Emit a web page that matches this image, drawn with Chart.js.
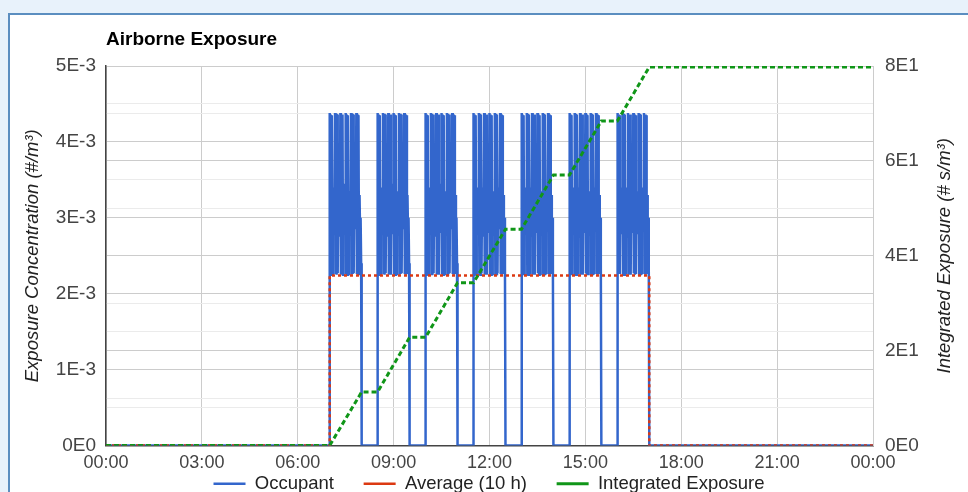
<!DOCTYPE html>
<html>
<head>
<meta charset="utf-8">
<script src="https://cdn.jsdelivr.net/npm/chart.js@4"></script>
<style>
  html, body { margin: 0; padding: 0; width: 968px; height: 492px; overflow: hidden; background: #e8f2fb; }
  #panel { position: absolute; left: 8px; top: 13px; width: 980px; height: 500px; background: #fff;
           border-left: 2px solid #5b8ec0; border-top: 2px solid #5b8ec0; }
  #wrap { position: absolute; left: 0; top: 0; width: 958px; height: 488px; }
</style>
</head>
<body>
<div id="panel"><div id="wrap"><canvas id="exposureChart"></canvas></div></div>
<script>
// Occupied periods (hours of day), each 1 h long
const blockStarts = [7, 8.5, 10, 11.5, 13, 14.5, 16];
const blockLength = 1;
// Occupant concentration inside one occupied hour, one value per minute (x 1E-3 #/m3)
const occupantBlock = [
  4.38, 2.25, 4.36, 2.27, 4.35, 2.26, 3.30, 2.80, 3.40, 2.90,
  4.38, 2.26, 4.37, 2.25, 4.36, 2.27, 3.35, 2.75, 3.40, 2.90,
  4.38, 2.25, 4.35, 2.28, 4.36, 2.25, 3.30, 2.80, 3.45, 2.85,
  4.38, 2.27, 4.36, 2.25, 4.35, 2.26, 3.30, 2.80, 3.35, 2.90,
  4.38, 2.25, 4.37, 2.26, 4.36, 2.27, 3.25, 2.85, 3.40, 2.90,
  4.38, 2.26, 4.36, 2.25, 4.35, 2.26, 3.30, 2.80, 3.00, 2.40
];
// Average over the 10 h occupancy
const avgTimes  = [0, 7, 7, 17, 17, 24];
const avgValues = [0, 0, 2.24e-3, 2.24e-3, 0, 0];
// Integrated exposure (# s/m3)
const intTimes  = [0, 7, 8, 8.5, 9.5, 10, 11, 11.5, 12.5, 13, 14, 14.5, 15.5, 16, 17, 24];
const intValues = [0, 0, 11.3, 11.3, 22.8, 22.8, 34.3, 34.3, 45.6, 45.6, 57.0, 57.0, 68.4, 68.4, 79.8, 79.8];

const xTickLabels = ["00:00", "03:00", "06:00", "09:00", "12:00", "15:00", "18:00", "21:00", "00:00"];
const leftTickLabels = ["0E0", "1E-3", "2E-3", "3E-3", "4E-3", "5E-3"];
const rightTickLabels = ["0E0", "2E1", "4E1", "6E1", "8E1"];

const FONT = "Arial, 'Liberation Sans', sans-serif";

// build occupant points
const occupantData = [{ x: 0, y: 0 }];
blockStarts.forEach(t0 => {
  occupantData.push({ x: t0, y: 0 });
  occupantBlock.forEach((v, i) => occupantData.push({ x: t0 + i * blockLength / occupantBlock.length, y: v * 1e-3 }));
  occupantData.push({ x: t0 + blockLength, y: 0 });
});
occupantData.push({ x: 24, y: 0 });

const avgData = avgTimes.map((t, i) => ({ x: t, y: avgValues[i] }));
const intData = intTimes.map((t, i) => ({ x: t, y: intValues[i] }));

const titlesPlugin = {
  id: "titles",
  afterDraw(chart) {
    const { ctx, chartArea } = chart;
    ctx.save();
    ctx.fillStyle = "#000";
    ctx.font = "bold 19px " + FONT;
    ctx.textBaseline = "middle";
    ctx.textAlign = "left";
    ctx.fillText("Airborne Exposure", chartArea.left, 25);
    // right axis title, reads bottom to top
    ctx.fillStyle = "#222";
    ctx.font = "italic 18.5px " + FONT;
    ctx.translate(935, (chartArea.top + chartArea.bottom) / 2);
    ctx.rotate(-Math.PI / 2);
    ctx.textAlign = "center";
    ctx.fillText("Integrated Exposure (# s/m\u00b3)", 0, 0);
    ctx.restore();
  }
};

new Chart(document.getElementById("exposureChart"), {
  type: "line",
  data: {
    datasets: [
      { label: "Occupant", data: occupantData, yAxisID: "y", borderColor: "#3366cc", borderWidth: 2.5,
        pointRadius: 0, tension: 0, order: 2 },
      { label: "Average (10 h)", data: avgData, yAxisID: "y", borderColor: "#dc3912", borderWidth: 2.5,
        borderDash: [3, 3], pointRadius: 0, tension: 0, order: 1 },
      { label: "Integrated Exposure", data: intData, yAxisID: "y2", borderColor: "#109618", borderWidth: 3,
        borderDash: [5, 3], pointRadius: 0, tension: 0, order: 0 }
    ]
  },
  options: {
    responsive: true,
    maintainAspectRatio: false,
    animation: false,
    layout: { padding: { top: 51, left: 0, right: 0, bottom: 0 } },
    plugins: {
      tooltip: { enabled: false },
      legend: {
        position: "bottom",
        labels: {
          usePointStyle: true, pointStyle: "line", pointStyleWidth: 32, padding: 4, color: "#222",
          font: { family: FONT, size: 18.5 },
          generateLabels: chart => {
            const items = Chart.defaults.plugins.legend.labels.generateLabels(chart);
            items.sort((a, b) => a.datasetIndex - b.datasetIndex);
            items.forEach((it, i) => { if (i < items.length - 1) it.text += "\u00a0\u00a0\u00a0\u00a0\u00a0"; });
            return items;
          }
        }
      }
    },
    scales: {
      x: {
        type: "linear", min: 0, max: 24,
        afterFit: s => { s.height = 25; },
        grid: { color: "#cccccc", drawTicks: false },
        border: { color: "#444", width: 1.5 },
        ticks: { stepSize: 3, maxRotation: 0, autoSkip: false, padding: 7, color: "#444",
                 font: { family: FONT, size: 18 },
                 callback: (v) => xTickLabels[Math.round(v / 3)] }
      },
      y: {
        position: "left", min: 0, max: 0.005,
        afterFit: s => { s.width = 96; },
        title: { display: true, text: "Exposure Concentration (#/m\u00b3)", color: "#222",
                 padding: { top: 12, bottom: 0 }, font: { family: FONT, size: 18.5, style: "italic" } },
        grid: { drawTicks: false, color: c => (c.index % 2 === 0 ? "#cccccc" : "#ebebeb") },
        border: { color: "#444", width: 1.5 },
        ticks: { stepSize: 0.0005, autoSkip: false, padding: 10, color: "#444",
                 font: { family: FONT, size: 19 },
                 callback: (v) => { const k = Math.round(v / 0.0005); return k % 2 === 0 ? leftTickLabels[k / 2] : ""; } }
      },
      y2: {
        position: "right", min: 0, max: 80,
        afterFit: s => { s.width = 95; },
        grid: { drawTicks: false, drawOnChartArea: true, color: c => (c.index % 2 === 0 ? "#cccccc" : "#ebebeb") },
        border: { color: "#cccccc" },
        ticks: { stepSize: 10, autoSkip: false, padding: 12, color: "#444",
                 font: { family: FONT, size: 19 },
                 callback: (v) => { const k = Math.round(v / 10); return k % 2 === 0 ? rightTickLabels[k / 2] : ""; } }
      }
    }
  },
  plugins: [titlesPlugin]
});
</script>
</body>
</html>
